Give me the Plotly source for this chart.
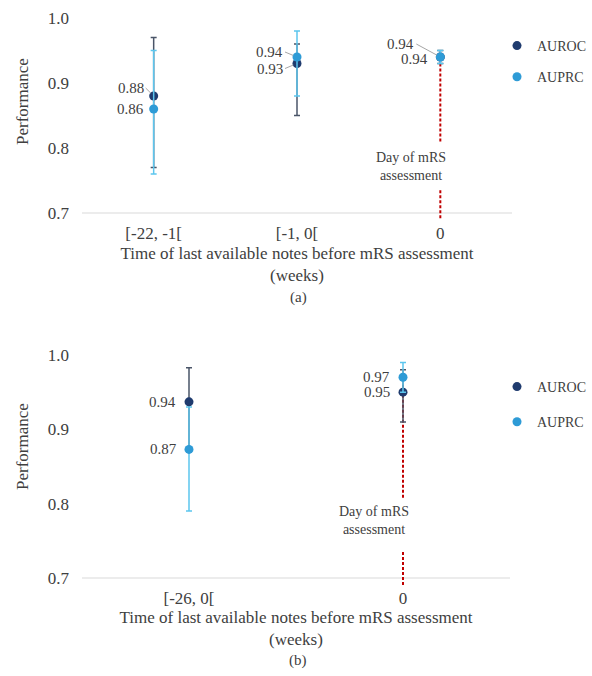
import plotly.graph_objects as go

# ---------------- data ----------------
cats_a = ["[-22, -1[", "[-1, 0[", "0"]
auroc_a = [0.88, 0.93, 0.94]
auroc_a_lo = [0.77, 0.85, 0.93]
auroc_a_hi = [0.97, 0.96, 0.95]
auprc_a = [0.86, 0.94, 0.94]
auprc_a_lo = [0.76, 0.88, 0.93]
auprc_a_hi = [0.95, 0.98, 0.95]

cats_b = ["[-26, 0[", "0"]
auroc_b = [0.937, 0.95]
auroc_b_lo = [0.87, 0.91]
auroc_b_hi = [0.983, 0.98]
auprc_b = [0.873, 0.97]
auprc_b_lo = [0.79, 0.95]
auprc_b_hi = [0.93, 0.99]

day_label = "Day of mRS<br>assessment"
x_title = "Time of last available notes before mRS assessment<br>(weeks)"

# ---------------- style ----------------
FONT = "Liberation Serif"
TXT = "#404040"
C_ROC = "#1F3B6E"
C_PRC = "#2E9BD6"
E_ROC = "#4A5568"
E_PRC = "#5CC6EE"
RED = "#C00000"

W, H = 592, 676

fig = go.Figure()


def add_panel(cats, roc, roc_lo, roc_hi, prc, prc_lo, prc_hi, xa, ya, leg, ybot):
    fig.add_trace(go.Scatter(
        x=["0", "0", None, "0", "0"],
        y=[max(roc[-1], prc[-1]) - 0.01, 0.808, None, 0.735, ybot],
        mode="lines", line=dict(color=RED, width=2, dash="3px,2px"),
        connectgaps=False, showlegend=False, hoverinfo="skip",
        xaxis=xa, yaxis=ya))
    fig.add_trace(go.Scatter(
        x=cats, y=roc, mode="markers", name="AUROC",
        marker=dict(color=C_ROC, size=9),
        error_y=dict(type="data", symmetric=False,
                     array=[h - v for h, v in zip(roc_hi, roc)],
                     arrayminus=[v - l for l, v in zip(roc_lo, roc)],
                     color=E_ROC, thickness=1.5, width=3),
        legend=leg, legendgroup=leg + "roc",
        xaxis=xa, yaxis=ya))
    fig.add_trace(go.Scatter(
        x=cats, y=prc, mode="markers", name="AUPRC",
        marker=dict(color=C_PRC, size=9),
        error_y=dict(type="data", symmetric=False,
                     array=[h - v for h, v in zip(prc_hi, prc)],
                     arrayminus=[v - l for l, v in zip(prc_lo, prc)],
                     color=E_PRC, thickness=1.5, width=3),
        legend=leg, legendgroup=leg + "prc",
        xaxis=xa, yaxis=ya))


YBOT_A, YBOT_B = 0.689, 0.6906
add_panel(cats_a, auroc_a, auroc_a_lo, auroc_a_hi, auprc_a, auprc_a_lo, auprc_a_hi, "x", "y", "legend", YBOT_A)
add_panel(cats_b, auroc_b, auroc_b_lo, auroc_b_hi, auprc_b, auprc_b_lo, auprc_b_hi, "x2", "y2", "legend2", YBOT_B)

x0, x1 = 82 / W, 512 / W
dom_a = [(H - (213 + (0.7 - YBOT_A) * 650)) / H, (H - 18) / H]
dom_b = [(H - (578 + (0.7 - YBOT_B) * 743)) / H, (H - 355) / H]

axis_x = dict(showgrid=False, zeroline=False, showline=False, ticks="", automargin=False,
              tickfont=dict(family=FONT, size=17, color=TXT), ticklabelstandoff=1,
              title=dict(text=x_title, font=dict(family=FONT, size=17, color=TXT), standoff=4),
              fixedrange=True)
axis_y = dict(showgrid=False, zeroline=False, showline=False, ticks="", automargin=False,
              tickvals=[0.7, 0.8, 0.9, 1.0], tickformat=".1f",
              tickfont=dict(family=FONT, size=17, color=TXT), ticklabelstandoff=12)

fig.update_layout(
    width=W, height=H,
    margin=dict(l=0, r=0, t=0, b=0, autoexpand=False),
    paper_bgcolor="white", plot_bgcolor="white",
    font=dict(family=FONT, color=TXT),
    xaxis=dict(axis_x, domain=[x0, x1], anchor="y", categoryorder="array",
               categoryarray=cats_a, range=[-0.5, len(cats_a) - 0.5]),
    yaxis=dict(axis_y, domain=dom_a, range=[YBOT_A, 1.0], anchor="x"),
    xaxis2=dict(axis_x, domain=[x0, 510 / W], anchor="y2", categoryorder="array",
                categoryarray=cats_b, range=[-0.5, len(cats_b) - 0.5]),
    yaxis2=dict(axis_y, domain=dom_b, range=[YBOT_B, 1.0], anchor="x2"),
    legend=dict(x=497 / W, xanchor="left", y=1 - 30 / H, yanchor="top",
                font=dict(family=FONT, size=14, color=TXT), traceorder="grouped",
                tracegroupgap=10, bgcolor="rgba(0,0,0,0)", itemclick=False),
    legend2=dict(x=497 / W, xanchor="left", y=1 - 371 / H, yanchor="top",
                 font=dict(family=FONT, size=14, color=TXT), traceorder="grouped",
                 tracegroupgap=14, bgcolor="rgba(0,0,0,0)", itemclick=False),
    showlegend=True,
)

for xr, yr in (("x domain", "y"), ("x2 domain", "y2")):
    fig.add_shape(type="line", xref=xr, yref=yr, x0=0, x1=1, y0=0.7, y1=0.7,
                  line=dict(color="#D9D9D9", width=1), layer="below")

LBL = dict(family=FONT, size=15, color=TXT)


def label(xa, ya, x, y, text, dx, dy, leader):
    if leader:
        fig.add_annotation(xref=xa, yref=ya, x=x, y=y, text=text, showarrow=True,
                           arrowhead=0, arrowwidth=1, arrowcolor="#A6A6A6", standoff=4,
                           ax=dx, ay=dy, xanchor="right", yanchor="middle", font=LBL)
    else:
        fig.add_annotation(xref=xa, yref=ya, x=x, y=y, text=text, showarrow=False,
                           xshift=dx, yshift=-dy, xanchor="right", yanchor="middle", font=LBL)


ia = {c: i for i, c in enumerate(cats_a)}
ib = {c: i for i, c in enumerate(cats_b)}

# panel (a) labels
label("x", "y", ia[cats_a[0]], auroc_a[0], f"{auroc_a[0]:.2f}", -8, -8, True)
label("x", "y", ia[cats_a[0]], auprc_a[0], f"{auprc_a[0]:.2f}", -8, 0, False)
label("x", "y", ia[cats_a[1]], auprc_a[1], f"{auprc_a[1]:.2f}", -12, -5, True)
label("x", "y", ia[cats_a[1]], auroc_a[1], f"{auroc_a[1]:.2f}", -12, 5, True)
label("x", "y", ia[cats_a[2]], auroc_a[2], f"{auroc_a[2]:.2f}", -24, -13, True)
label("x", "y", ia[cats_a[2]], auprc_a[2], f"{auprc_a[2]:.2f}", -10, 2, False)
# panel (b) labels
label("x2", "y2", ib[cats_b[0]], auroc_b[0], f"{auroc_b[0]:.2f}", -11, 0, False)
label("x2", "y2", ib[cats_b[0]], auprc_b[0], f"{auprc_b[0]:.2f}", -10, 0, False)
label("x2", "y2", ib[cats_b[1]], auprc_b[1], f"{auprc_b[1]:.2f}", -11, 0, False)
label("x2", "y2", ib[cats_b[1]], auroc_b[1], f"{auroc_b[1]:.2f}", -11, 0, False)

# day-of-assessment text
DAY = dict(family=FONT, size=14, color=TXT)
fig.add_annotation(xref="x", yref="y", x=ia["0"], y=0.772, text=day_label, showarrow=False,
                   xshift=-29, font=DAY, align="center", yanchor="middle")
fig.add_annotation(xref="x2", yref="y2", x=ib["0"], y=0.777, text=day_label, showarrow=False,
                   xshift=-29, font=DAY, align="center", yanchor="middle")

# y titles
for yp in (1 - 102 / H, 1 - 447 / H):
    fig.add_annotation(xref="paper", yref="paper", x=22 / W, y=yp, text="Performance",
                       textangle=-90, showarrow=False, xanchor="center", yanchor="middle",
                       font=dict(family=FONT, size=17, color=TXT))

# panel letters
for txt, yp in (("(a)", 298), ("(b)", 660)):
    fig.add_annotation(xref="paper", yref="paper", x=298 / W, y=1 - yp / H, text=txt,
                       showarrow=False, xanchor="center", yanchor="middle",
                       font=dict(family=FONT, size=15, color=TXT))

fig.write_html("out.html")
